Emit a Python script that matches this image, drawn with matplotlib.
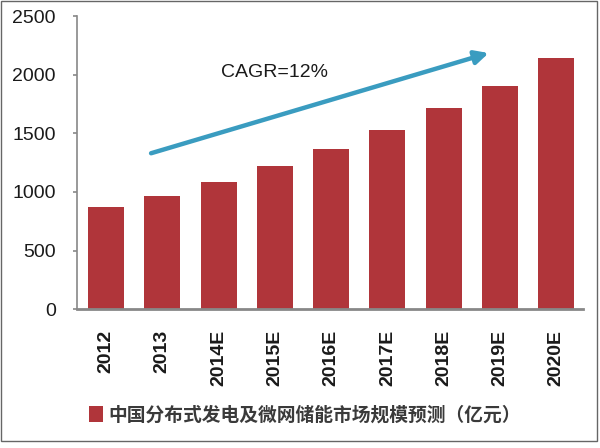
import matplotlib.pyplot as plt
from matplotlib.patches import Rectangle

years = ['2012', '2013', '2014E', '2015E', '2016E', '2017E', '2018E', '2019E', '2020E']
market_size = [868, 964, 1086, 1217, 1362, 1527, 1712, 1903, 2139]
series_name = '中国分布式发电及微网储能市场规模预测（亿元）'
cagr_label = 'CAGR=12%'

plt.rcParams['font.family'] = ['Liberation Sans', 'Noto Sans CJK SC', 'DejaVu Sans']

fig = plt.figure(figsize=(6, 4.48), dpi=100)
ax = fig.add_axes([0.128, 0.31, 0.844, 0.654])

x = range(len(years))
ax.bar(x, market_size, width=0.64, color='#b0353a', label=series_name)

ax.set_xlim(-0.52, 8.48)
ax.set_ylim(0, 2500)
ax.set_yticks([0, 500, 1000, 1500, 2000, 2500])
ax.set_xticks(list(x))
ax.set_xticklabels(years, rotation=90, fontsize=14, fontweight='bold', color='#1a1a1a')
ax.tick_params(axis='y', labelsize=14, labelcolor='#1a1a1a', color='#888888',
               length=3, width=1.2, pad=12)
ax.tick_params(axis='x', length=0, pad=15)

for side in ['top', 'right']:
    ax.spines[side].set_visible(False)
ax.spines['left'].set_color('#888888')
ax.spines['left'].set_linewidth(1.2)
ax.spines['bottom'].set_color('#888888')
ax.spines['bottom'].set_linewidth(2)

# growth arrow
ax.annotate('', xy=(6.8, 2185), xytext=(0.8, 1330),
            arrowprops=dict(arrowstyle='-|>', color='#3a9cc0', lw=3.2,
                            mutation_scale=20, shrinkA=0, shrinkB=0))
ax.text(2.05, 2020, cagr_label, fontsize=14, color='#1a1a1a', va='center')

leg = fig.legend(loc='lower left', bbox_to_anchor=(0.12, 0.015), frameon=False,
                 handlelength=0.75, handleheight=1.0, handletextpad=0.3,
                 prop={'family': ['Noto Sans CJK SC'], 'size': 13.5, 'weight': 'bold'})
for t in leg.get_texts():
    t.set_color('#3a3a3a')

fig.patches.append(Rectangle((0.001, 0.015), 0.994, 0.983, transform=fig.transFigure,
                             fill=False, edgecolor='#666666', lw=1))

fig.savefig('out.png', dpi=100)
